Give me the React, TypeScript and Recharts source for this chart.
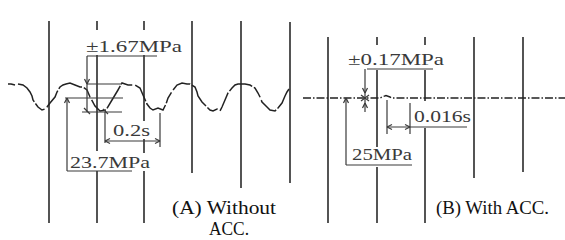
import React from 'react';
import { ComposedChart, Line, XAxis, YAxis, ReferenceLine, ReferenceDot } from 'recharts';

// Trace (A) without ACC: position along the record vs. pen deflection
const traceA = [
  { x: 8, y: 84 }, { x: 11, y: 84 }, { x: 13, y: 84.5 }, { x: 15, y: 85 }, { x: 16.5, y: null },
  { x: 18, y: 84 }, { x: 23, y: 85 }, { x: 27, y: 88 }, { x: 30, y: 92 }, { x: 32, y: 96 },
  { x: 33, y: 100 }, { x: 35, y: 103 }, { x: 38, y: 107 }, { x: 42, y: 110 }, { x: 45, y: 109 },
  { x: 47, y: 107 }, { x: 50, y: 103 }, { x: 55, y: 97 }, { x: 57, y: 92 }, { x: 60, y: 87 },
  { x: 63, y: 85 }, { x: 66, y: 84 }, { x: 70, y: 83 }, { x: 75, y: 85 }, { x: 80, y: 87 },
  { x: 83, y: 87 }, { x: 87, y: 90 }, { x: 90, y: 97 }, { x: 95, y: 106 }, { x: 100, y: 111 },
  { x: 106, y: 110 }, { x: 112, y: 100 }, { x: 118, y: 90 }, { x: 122, y: 83 }, { x: 128, y: 85 },
  { x: 135, y: 85 }, { x: 140, y: 88 }, { x: 143, y: 95 }, { x: 147, y: 104 }, { x: 150, y: 108 },
  { x: 153, y: 110 }, { x: 158, y: 108 }, { x: 163, y: 110 }, { x: 166, y: 104 }, { x: 168, y: 98 },
  { x: 173, y: 90 }, { x: 177, y: 85 }, { x: 182, y: 83 }, { x: 187, y: 84 }, { x: 190, y: 84 },
  { x: 195, y: 87 }, { x: 197, y: 92 }, { x: 198, y: 96 }, { x: 202, y: 102 }, { x: 207, y: 107 },
  { x: 210, y: 110 }, { x: 213, y: 111 }, { x: 217, y: 109 }, { x: 220, y: 111 }, { x: 222, y: 107 },
  { x: 225, y: 100 }, { x: 228, y: 93 }, { x: 232, y: 88 }, { x: 235, y: 85 }, { x: 238, y: 84 },
  { x: 245, y: 84 }, { x: 250, y: 85 }, { x: 255, y: 88 }, { x: 258, y: 93 }, { x: 260, y: 97 },
  { x: 262, y: 102 }, { x: 267, y: 107 }, { x: 270, y: 110 }, { x: 275, y: 111 }, { x: 278, y: 108 },
  { x: 282, y: 103 }, { x: 285, y: 96 }, { x: 287, y: 92 }, { x: 289, y: 89 },
];

// Trace (B) with ACC: nearly flat
const traceB = [
  { x: 303, y: 98 }, { x: 340, y: 98 }, { x: 380, y: 98 }, { x: 382, y: 97 }, { x: 386, y: 95.5 },
  { x: 390, y: 97 }, { x: 392, y: 98 }, { x: 430, y: 98 }, { x: 480, y: 98 }, { x: 565, y: 98 },
];

// Time-mark lines (record grid)
const gridA = [
  { x: 49, from: 21, to: 223 }, { x: 97, from: 21, to: 30 }, { x: 97, from: 55, to: 151 },
  { x: 97, from: 171, to: 223 }, { x: 144, from: 21, to: 30 }, { x: 144, from: 55, to: 121 },
  { x: 144, from: 139, to: 153 }, { x: 144, from: 171, to: 223 }, { x: 192, from: 21, to: 173 },
  { x: 241, from: 21, to: 188 }, { x: 290, from: 22, to: 183 },
];
const gridB = [
  { x: 328, from: 37, to: 223 }, { x: 377, from: 37, to: 45 }, { x: 377, from: 70, to: 147 },
  { x: 377, from: 167, to: 223 }, { x: 425, from: 37, to: 45 }, { x: 425, from: 70, to: 101 },
  { x: 425, from: 128, to: 223 }, { x: 474, from: 37, to: 178 }, { x: 523, from: 37, to: 172 },
];

const labels = {
  ampA: '±1.67MPa', meanA: '23.7MPa', periodA: '0.2s',
  ampB: '±0.17MPa', meanB: '25MPa', periodB: '0.016s',
  capA1: '(A) Without', capA2: 'ACC.', capB: '(B) With ACC.',
};

const INK = '#2a2a2a';
const ANN = '#3a3a3a';

let k = 0;
function seg(x1: number, y1: number, x2: number, y2: number, w = 1.2, color = ANN) {
  k += 1;
  return (
    <ReferenceLine
      key={'s' + k}
      segment={[{ x: x1, y: y1 }, { x: x2, y: y2 }]}
      stroke={color}
      strokeWidth={w}
      ifOverflow="visible"
    />
  );
}

function arrow(x: number, y: number, dir: 'up' | 'down' | 'left' | 'right') {
  const L = 5, H = 2.5;
  if (dir === 'up') return [seg(x, y, x - H, y + L), seg(x, y, x + H, y + L)];
  if (dir === 'down') return [seg(x, y, x - H, y - L), seg(x, y, x + H, y - L)];
  if (dir === 'left') return [seg(x, y, x + L, y - H), seg(x, y, x + L, y + H)];
  return [seg(x, y, x - L, y - H), seg(x, y, x - L, y + H)];
}

function txt(x: number, y: number, s: string, size: number, len: number, fill = '#3a3a3a', family = '"Liberation Serif", "DejaVu Serif", serif') {
  k += 1;
  return (
    <ReferenceDot
      key={'t' + k}
      x={x}
      y={y}
      r={0}
      ifOverflow="visible"
      shape={(p: any) => (
        <text
          x={p.cx}
          y={p.cy}
          fontSize={size}
          fontFamily={family}
          fill={fill}
          textLength={len}
          lengthAdjust="spacingAndGlyphs"
        >
          {s}
        </text>
      )}
    />
  );
}

export default function App() {
  k = 0;
  const grid = [...gridA, ...gridB].map((g) => seg(g.x, g.from, g.x, g.to, 1.6, INK));
  const ann = [
    // (A) amplitude
    seg(87, 56, 157, 56), seg(87, 56, 87, 112), ...arrow(87, 84, 'down'),
    seg(87, 84, 122, 84), seg(65, 98, 123, 98), seg(82, 112, 122, 112),
    seg(84, 108, 90, 114), seg(103, 109, 108, 114),
    // (A) mean
    seg(67, 98, 67, 171), ...arrow(67, 98, 'up'), seg(67, 171, 132, 171),
    // (A) period
    seg(105, 112, 105, 143), seg(160, 113, 160, 147), seg(105, 141, 160, 141),
    ...arrow(105, 141, 'left'), ...arrow(160, 141, 'right'),
    // (B) amplitude
    seg(367, 69, 433, 69), seg(365, 69, 365, 112), ...arrow(365, 93, 'down'), ...arrow(365, 103, 'up'),
    seg(361, 95, 369, 101), seg(361, 101, 369, 95),
    // (B) mean
    seg(346, 98, 346, 165), ...arrow(346, 98, 'up'), seg(346, 165, 412, 165),
    // (B) period
    seg(387, 100, 387, 134), seg(410, 103, 410, 134), seg(387, 127, 467, 127),
    ...arrow(387, 127, 'left'), ...arrow(410, 127, 'right'),
  ];
  const texts = [
    txt(86, 52, labels.ampA, 16, 96),
    txt(70, 168, labels.meanA, 16, 80),
    txt(113, 136, labels.periodA, 16, 37),
    txt(348, 65, labels.ampB, 16, 96),
    txt(352, 160, labels.meanB, 16, 60),
    txt(414, 122, labels.periodB, 16, 57),
    txt(172, 214, labels.capA1, 19, 104, '#111'),
    txt(209, 235, labels.capA2, 19, 40, '#111'),
    txt(436, 214, labels.capB, 19, 113, '#111'),
  ];
  return (
    <div style={{ position: 'absolute', left: 0, top: 0, background: '#fff' }}>
      <ComposedChart width={565} height={240} margin={{ top: 0, right: 0, bottom: 0, left: 0 }}>
        <XAxis type="number" dataKey="x" domain={[0, 565]} allowDataOverflow hide />
        <YAxis type="number" domain={[0, 240]} reversed allowDataOverflow hide />
        {grid}
        <Line
          data={traceA}
          dataKey="y"
          type="linear"
          stroke="#222"
          strokeWidth={1.5}
          strokeDasharray="26 2 12 3 20 2"
          dot={false}
          activeDot={false}
          legendType="none"
          isAnimationActive={false}
          connectNulls={false}
        />
        <Line
          data={traceB}
          dataKey="y"
          type="linear"
          stroke="#222"
          strokeWidth={1.4}
          strokeDasharray="8 2 1.5 2"
          dot={false}
          activeDot={false}
          legendType="none"
          isAnimationActive={false}
        />
        {ann}
        {texts}
      </ComposedChart>
    </div>
  );
}
